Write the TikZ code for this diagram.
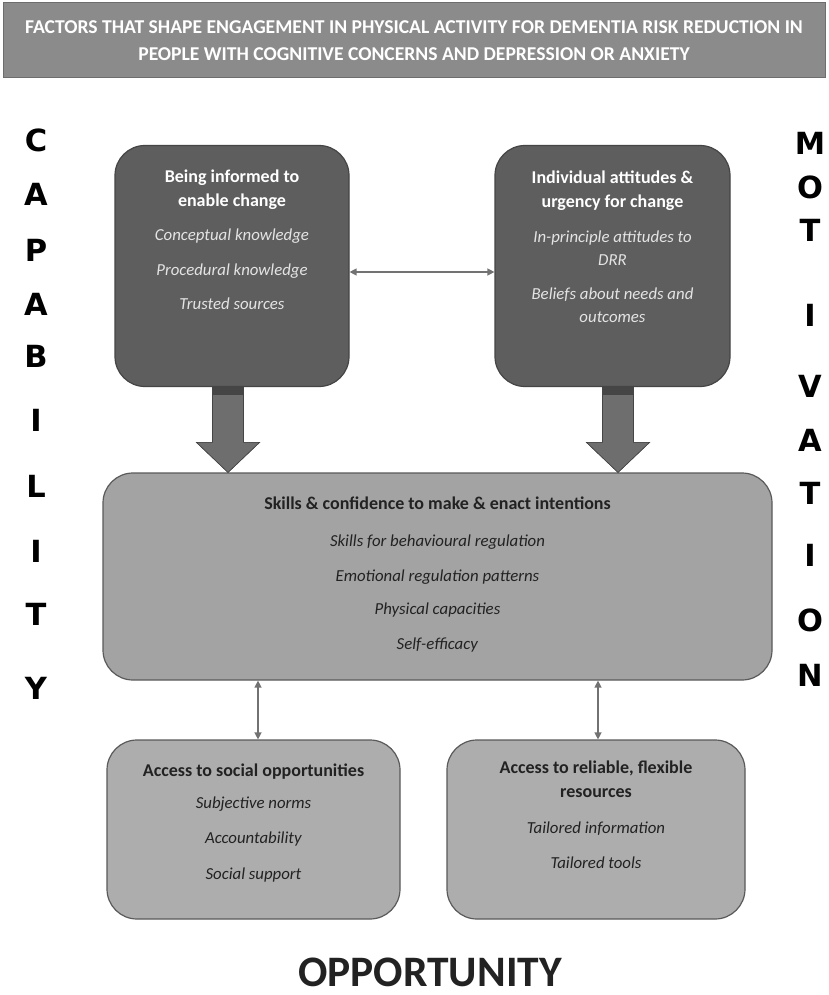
\documentclass[tikz,border=0pt]{standalone}
\usepackage{fontspec}
\setmainfont{Carlito}
\newfontfamily\letterfont{DejaVu Sans}
\usetikzlibrary{positioning,arrows.meta,calc}

\definecolor{barfill}{HTML}{8B8B8B}
\definecolor{barline}{HTML}{6E6E6E}
\definecolor{darkfill}{HTML}{5E5E5E}
\definecolor{darkline}{HTML}{454545}
\definecolor{midfill}{HTML}{A3A3A3}
\definecolor{lowfill}{HTML}{ADADAD}
\definecolor{boxline}{HTML}{5A5A5A}
\definecolor{arrowgray}{HTML}{727272}
\definecolor{inktext}{HTML}{222222}
\definecolor{softwhite}{HTML}{E4E4E4}

\newcommand{\boxhead}[1]{{\bfseries\fontsize{18}{24}\selectfont #1}}

\tikzset{
  darkbox/.style = {draw = darkline, fill = darkfill, line width = 1.2pt,
    rounded corners = 30pt, minimum width = 234pt, minimum height = 241pt},
  midbox/.style = {draw = boxline, fill = midfill, line width = 1.2pt,
    rounded corners = 30pt, minimum width = 669pt, minimum height = 207pt},
  lowbox/.style = {draw = boxline, fill = lowfill, line width = 1.2pt,
    rounded corners = 30pt, minimum height = 179pt},
  lighttext/.style = {text = white, align = center, inner sep = 0pt,
    font = \fontsize{16.8}{24}\selectfont},
  darktext/.style = {text = inktext, align = center, inner sep = 0pt,
    font = \fontsize{16.8}{24}\selectfont},
  sideletter/.style = {text = black, inner sep = 0pt,
    font = \letterfont\bfseries\fontsize{30.5}{30.5}\selectfont},
  headline/.style = {align = center, inner sep = 0pt,
    font = \bfseries\fontsize{19.6}{26.5}\selectfont},
  thinarrow/.style = {draw = arrowgray, line width = 1.3pt,
    {Triangle[length = 7pt, width = 7pt]}-{Triangle[length = 7pt, width = 7pt]}},
  fatarrow/.style = {draw = darkline, fill = darkfill!90!white, line width = 0.6pt}
}

\begin{document}
\begin{tikzpicture}[x = 1pt, y = -1pt]
  \fill[white] (0,0) rectangle (828,995);
  \useasboundingbox (0,0) rectangle (828,995);

  % heading
  \node[draw = barline, fill = barfill, line width = 1pt,
        minimum width = 822pt, minimum height = 75pt] (heading) at (414,40.5) {};
  \node[headline, text = black!45] (headshadow) at ([shift = {(1,1)}]heading.center)
    {FACTORS THAT SHAPE ENGAGEMENT IN PHYSICAL ACTIVITY FOR DEMENTIA RISK REDUCTION IN\\
     PEOPLE WITH COGNITIVE CONCERNS AND DEPRESSION OR ANXIETY};
  \node[headline, text = white] (headtext) at (heading.center)
    {FACTORS THAT SHAPE ENGAGEMENT IN PHYSICAL ACTIVITY FOR DEMENTIA RISK REDUCTION IN\\
     PEOPLE WITH COGNITIVE CONCERNS AND DEPRESSION OR ANXIETY};

  % top boxes
  \node[darkbox] (info) at (232,266) {};
  \node[lighttext, below = 25pt of info.north] (infotext)
    {\boxhead{Being informed to}\\
     \boxhead{enable change}\\[10pt]
     {\color{softwhite}\itshape Conceptual knowledge}\\[11pt]
     {\color{softwhite}\itshape Procedural knowledge}\\[10pt]
     {\color{softwhite}\itshape Trusted sources}};

  \node[darkbox, minimum width = 235pt] (attitude) at (612.5,266) {};
  \node[lighttext, below = 26pt of attitude.north] (attitudetext)
    {\boxhead{Individual attitudes \&}\\
     \boxhead{urgency for change}\\[11pt]
     {\color{softwhite}\itshape In-principle attitudes to}\\[-1pt]
     {\color{softwhite}\itshape DRR}\\[10pt]
     {\color{softwhite}\itshape Beliefs about needs and}\\[-1pt]
     {\color{softwhite}\itshape outcomes}};

  \draw[thinarrow] ([yshift = -6pt]info.east) -- ([yshift = -6pt]attitude.west);

  % middle box
  \node[midbox] (skills) at (437.5,576.5) {};
  \node[darktext, below = 24pt of skills.north] (skillstext)
    {\boxhead{Skills \& confidence to make \& enact intentions}\\[13pt]
     \textit{Skills for behavioural regulation}\\[11pt]
     \textit{Emotional regulation patterns}\\[9pt]
     \textit{Physical capacities}\\[11pt]
     \textit{Self-efficacy}};

  % fat arrows
  \coordinate (ia) at ([xshift = -4pt]info.south);
  \coordinate (ib) at (ia |- skills.north);
  \fill[fatarrow] ($(ia)+(-15.5,0)$) -- ($(ib)+(-15.5,-30)$) -- ($(ib)+(-31.5,-30)$)
    -- (ib) -- ($(ib)+(31.5,-30)$) -- ($(ib)+(15.5,-30)$) -- ($(ia)+(15.5,0)$) -- cycle;
  \draw[fatarrow] ($(ia)+(-15.5,0)$) -- ($(ib)+(-15.5,-30)$) -- ($(ib)+(-31.5,-30)$)
    -- (ib) -- ($(ib)+(31.5,-30)$) -- ($(ib)+(15.5,-30)$) -- ($(ia)+(15.5,0)$);
  \fill[darkline] ($(ia)+(-15.5,0)$) rectangle ($(ia)+(15.5,8)$);

  \coordinate (aa) at ([xshift = 5.5pt]attitude.south);
  \coordinate (ab) at (aa |- skills.north);
  \fill[fatarrow] ($(aa)+(-15.5,0)$) -- ($(ab)+(-15.5,-30)$) -- ($(ab)+(-31.5,-30)$)
    -- (ab) -- ($(ab)+(31.5,-30)$) -- ($(ab)+(15.5,-30)$) -- ($(aa)+(15.5,0)$) -- cycle;
  \draw[fatarrow] ($(aa)+(-15.5,0)$) -- ($(ab)+(-15.5,-30)$) -- ($(ab)+(-31.5,-30)$)
    -- (ab) -- ($(ab)+(31.5,-30)$) -- ($(ab)+(15.5,-30)$) -- ($(aa)+(15.5,0)$);
  \fill[darkline] ($(aa)+(-15.5,0)$) rectangle ($(aa)+(15.5,8)$);

  % bottom boxes
  \node[lowbox, minimum width = 293pt] (social) at (253.5,829.5) {};
  \node[darktext, below = 24pt of social.north] (socialtext)
    {\boxhead{Access to social opportunities}\\[8pt]
     \textit{Subjective norms}\\[11pt]
     \textit{Accountability}\\[12pt]
     \textit{Social support}};

  \node[lowbox, minimum width = 298pt] (resources) at (596,829.5) {};
  \node[darktext, below = 21pt of resources.north] (resourcestext)
    {\boxhead{Access to reliable, flexible}\\
     \boxhead{resources}\\[12pt]
     \textit{Tailored information}\\[11pt]
     \textit{Tailored tools}};

  \draw[thinarrow] ([xshift = 4.5pt]social.north) -- ([xshift = 4.5pt]social.north |- skills.south);
  \draw[thinarrow] ([xshift = 2pt]resources.north) -- ([xshift = 2pt]resources.north |- skills.south);

  % CAPABILITY
  \node[sideletter] (c1) at (36,140) {C};
  \node[sideletter] (c2) at (36,194) {A};
  \node[sideletter] (c3) at (36,250) {P};
  \node[sideletter] (c4) at (36,304) {A};
  \node[sideletter] (c5) at (36,356) {B};
  \node[sideletter] (c6) at (36,420) {I};
  \node[sideletter] (c7) at (36,486) {L};
  \node[sideletter] (c8) at (36,551) {I};
  \node[sideletter] (c9) at (36,614) {T};
  \node[sideletter] (c10) at (36,688) {Y};

  % MOTIVATION
  \node[sideletter] (m1) at (810,143) {M};
  \node[sideletter] (m2) at (810,187) {O};
  \node[sideletter] (m3) at (810,230) {T};
  \node[sideletter] (m4) at (810,315) {I};
  \node[sideletter] (m5) at (810,386) {V};
  \node[sideletter] (m6) at (810,440) {A};
  \node[sideletter] (m7) at (810,493) {T};
  \node[sideletter] (m8) at (810,555) {I};
  \node[sideletter] (m9) at (810,620) {O};
  \node[sideletter] (m10) at (810,675) {N};

  % OPPORTUNITY
  \node[text = inktext, inner sep = 0pt, anchor = base, font = \bfseries\fontsize{43.5}{43.5}\selectfont]
    (opportunity) at (430,986) {OPPORTUNITY};
\end{tikzpicture}
\end{document}
